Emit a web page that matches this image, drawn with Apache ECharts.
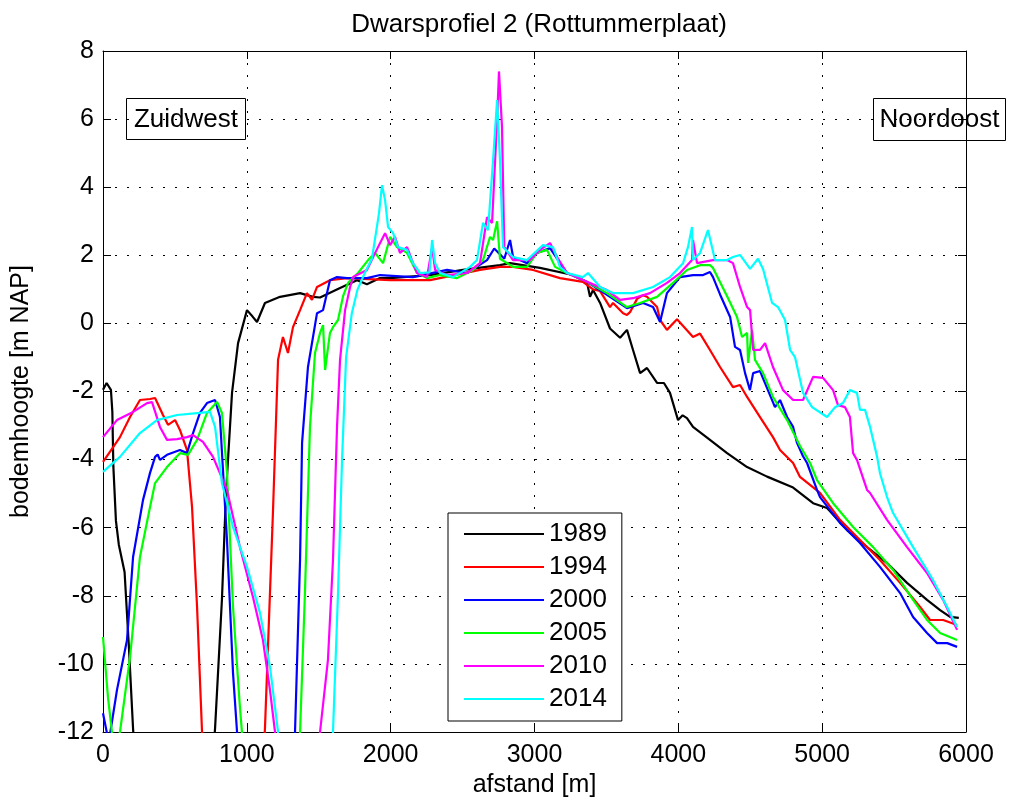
<!DOCTYPE html>
<html>
<head>
<meta charset="utf-8">
<script src="https://cdn.jsdelivr.net/npm/echarts@6/dist/echarts.min.js"></script>
<style>html,body{margin:0;padding:0;background:#fff}#c{width:1010px;height:806px}</style>
</head>
<body>
<div id="c"></div>
<script>
const years = ['1989', '1994', '2000', '2005', '2010', '2014'];
const colors = ['#000000', '#ff0000', '#0000ff', '#00ff00', '#ff00ff', '#00ffff'];
const xTicks = [0, 1000, 2000, 3000, 4000, 5000, 6000];
const yTicks = [-12, -10, -8, -6, -4, -2, 0, 2, 4, 6, 8];

const d1989 = [[0,-1.95],[25,-1.75],[55,-1.95],[65,-2.6],[72,-4.2],[90,-5.8],[110,-6.5],[150,-7.3],[180,-9.5],[209,-11.9],[225,-13],[760,-13],[779,-11.9],[827,-8.1],[855,-5.0],[897,-2.04],[939,-0.58],[1001,0.39],[1040,0.2],[1071,0.04],[1126,0.6],[1231,0.78],[1370,0.89],[1460,0.78],[1509,0.76],[1648,1.04],[1766,1.27],[1835,1.15],[1926,1.33],[1996,1.33],[2274,1.42],[2503,1.57],[2760,1.71],[2830,1.77],[3038,1.63],[3268,1.42],[3365,1.2],[3386,0.78],[3407,0.98],[3456,0.6],[3525,-0.15],[3595,-0.42],[3643,-0.19],[3685,-0.78],[3734,-1.46],[3782,-1.31],[3852,-1.75],[3900,-1.75],[3942,-2.04],[3998,-2.84],[4030,-2.7],[4060,-2.78],[4102,-3.04],[4220,-3.42],[4339,-3.81],[4478,-4.22],[4617,-4.5],[4798,-4.82],[4937,-5.28],[5034,-5.42],[5173,-6.07],[5312,-6.57],[5451,-7.04],[5590,-7.62],[5729,-8.12],[5820,-8.42],[5889,-8.62],[5950,-8.65]];

const d1994 = [[0,-4.07],[60,-3.7],[118,-3.34],[188,-2.75],[257,-2.25],[327,-2.22],[362,-2.19],[417,-2.69],[452,-2.98],[501,-2.84],[535,-3.13],[584,-3.72],[619,-5.39],[654,-8.33],[688,-11.94],[700,-13],[1110,-13],[1126,-11.9],[1182,-5.5],[1217,-1.07],[1251,-0.4],[1286,-0.87],[1321,-0.11],[1370,0.39],[1418,0.89],[1453,0.69],[1488,1.07],[1578,1.27],[1697,1.33],[1996,1.27],[2274,1.27],[2621,1.57],[2760,1.66],[2851,1.66],[2990,1.57],[3177,1.33],[3337,1.22],[3407,1.0],[3456,0.95],[3525,0.48],[3546,0.6],[3616,0.3],[3643,0.25],[3664,0.33],[3713,0.72],[3755,0.83],[3782,0.78],[3852,0.48],[3873,0.1],[3921,-0.19],[3991,0.12],[4060,-0.2],[4102,-0.4],[4151,-0.3],[4220,-0.78],[4290,-1.28],[4380,-1.87],[4429,-1.81],[4478,-2.16],[4568,-2.75],[4658,-3.34],[4707,-3.72],[4798,-4.1],[4846,-4.51],[4985,-4.98],[5124,-5.77],[5263,-6.36],[5402,-6.95],[5542,-7.62],[5681,-8.33],[5750,-8.71],[5841,-8.71],[5938,-8.86]];

const d2000 = [[0,-11.45],[40,-12.3],[97,-10.77],[167,-9.3],[209,-6.86],[278,-5.19],[327,-4.39],[362,-3.92],[380,-3.85],[396,-4.01],[445,-3.86],[535,-3.72],[584,-3.81],[626,-3.22],[674,-2.63],[723,-2.34],[779,-2.25],[813,-2.75],[862,-6.36],[904,-10.27],[932,-12],[945,-13],[1320,-13],[1335,-12],[1370,-6.95],[1384,-3.51],[1425,-1.28],[1488,0.3],[1530,0.39],[1578,1.27],[1627,1.36],[1697,1.33],[1835,1.33],[1926,1.42],[2155,1.36],[2392,1.57],[2531,1.48],[2670,1.86],[2720,2.2],[2790,1.9],[2830,2.45],[2851,1.95],[2948,1.77],[3017,2.07],[3108,2.21],[3178,1.77],[3226,1.48],[3365,1.22],[3525,0.78],[3643,0.45],[3755,0.6],[3824,0.48],[3873,0.04],[3921,0.89],[4012,1.36],[4102,1.42],[4172,1.42],[4220,1.51],[4241,1.36],[4290,0.85],[4360,0.19],[4394,-0.69],[4429,-0.78],[4464,-1.46],[4498,-1.96],[4520,-1.46],[4568,-1.4],[4617,-1.9],[4672,-2.46],[4707,-2.25],[4756,-2.75],[4798,-3.04],[4825,-3.51],[4867,-3.9],[4895,-4.1],[4964,-4.89],[4985,-5.1],[5124,-5.86],[5263,-6.45],[5402,-7.15],[5542,-7.92],[5632,-8.62],[5729,-9.09],[5799,-9.39],[5870,-9.39],[5938,-9.5]];

const d2005 = [[0,-9.21],[35,-11.0],[62,-12],[80,-12.5],[118,-12],[188,-9.8],[257,-6.86],[327,-5.39],[362,-4.69],[445,-4.22],[535,-3.81],[591,-3.86],[654,-3.42],[723,-2.63],[793,-2.31],[827,-2.63],[862,-4.39],[904,-8.33],[952,-11.27],[966,-12],[980,-13],[1355,-13],[1370,-12],[1404,-7.92],[1439,-3.04],[1474,-0.87],[1509,-0.28],[1530,-0.05],[1544,-1.37],[1578,-0.28],[1599,-0.11],[1634,0.1],[1669,0.8],[1704,1.19],[1773,1.48],[1843,1.86],[1891,2.07],[1947,1.77],[1996,2.54],[2044,2.24],[2114,2.07],[2183,1.48],[2253,1.33],[2343,1.42],[2461,1.33],[2573,1.57],[2642,1.86],[2691,2.54],[2712,2.45],[2740,3.0],[2760,1.9],[2851,1.66],[2948,1.66],[3017,2.07],[3087,2.16],[3143,1.66],[3226,1.48],[3365,1.22],[3504,0.89],[3643,0.48],[3734,0.6],[3852,0.78],[3963,1.19],[4060,1.57],[4151,1.71],[4220,1.71],[4241,1.63],[4339,0.8],[4408,0.19],[4443,-0.4],[4478,-0.28],[4485,-1.16],[4513,-0.19],[4533,-1.07],[4589,-1.46],[4658,-2.16],[4756,-2.84],[4846,-3.6],[4916,-4.1],[4964,-4.6],[5076,-5.28],[5215,-5.98],[5354,-6.57],[5493,-7.24],[5632,-8.12],[5729,-8.71],[5820,-9.09],[5938,-9.3]];

const d2010 = [[0,-3.34],[97,-2.84],[209,-2.6],[306,-2.34],[341,-2.31],[396,-3.04],[445,-3.42],[515,-3.4],[584,-3.34],[626,-3.28],[695,-3.48],[765,-3.92],[862,-4.89],[952,-6.57],[1043,-8.04],[1112,-9.3],[1161,-10.77],[1196,-12],[1210,-13],[1495,-13],[1509,-12],[1564,-9.88],[1599,-6.95],[1627,-3.04],[1648,-1.07],[1683,0.39],[1718,1.07],[1739,1.36],[1766,1.42],[1835,1.57],[1912,2.24],[1961,2.65],[1996,2.3],[2030,2.54],[2065,2.07],[2114,2.24],[2148,1.86],[2183,1.48],[2253,1.36],[2288,2.24],[2309,1.57],[2392,1.42],[2531,1.48],[2621,1.77],[2670,3.12],[2705,2.95],[2740,5.97],[2753,7.4],[2774,5.77],[2790,2.24],[2851,1.86],[2969,1.86],[3038,2.16],[3108,2.36],[3157,1.95],[3226,1.48],[3365,1.22],[3504,0.98],[3595,0.69],[3685,0.74],[3803,0.89],[3921,1.19],[4012,1.48],[4095,1.86],[4102,2.45],[4130,1.77],[4241,1.86],[4339,1.86],[4380,1.77],[4429,1.07],[4478,0.48],[4499,0.39],[4520,-0.78],[4568,-0.78],[4603,-0.58],[4658,-1.28],[4728,-1.96],[4798,-2.25],[4867,-2.25],[4937,-1.57],[5006,-1.6],[5076,-1.96],[5110,-2.4],[5159,-2.46],[5193,-2.75],[5215,-3.81],[5242,-4.01],[5312,-4.89],[5333,-4.98],[5451,-5.77],[5590,-6.57],[5729,-7.33],[5841,-8.12],[5938,-9.0]];

const d2014 = [[0,-4.36],[118,-3.92],[257,-3.22],[375,-2.84],[515,-2.69],[674,-2.63],[744,-2.6],[779,-3.04],[827,-4.69],[904,-5.98],[1001,-7.15],[1092,-8.51],[1161,-10.09],[1217,-12],[1230,-13],[1585,-13],[1599,-12],[1634,-7.92],[1662,-4.01],[1690,-1.0],[1730,0.3],[1770,1.0],[1820,1.48],[1870,1.9],[1919,3.24],[1940,4.06],[1961,3.62],[1982,2.83],[2017,2.65],[2051,2.24],[2114,2.16],[2155,1.77],[2204,1.48],[2270,1.5],[2288,2.45],[2309,1.77],[2343,1.48],[2434,1.36],[2552,1.66],[2600,1.86],[2642,2.95],[2677,2.74],[2712,4.8],[2740,6.56],[2760,4.8],[2781,2.24],[2851,1.95],[2948,1.86],[3059,2.3],[3129,2.24],[3177,1.66],[3226,1.48],[3337,1.36],[3372,1.48],[3456,1.07],[3546,0.89],[3685,0.89],[3824,1.07],[3942,1.36],[4033,1.77],[4067,2.24],[4095,2.83],[4102,1.86],[4151,2.07],[4206,2.74],[4255,1.86],[4339,1.86],[4380,1.95],[4429,2.01],[4499,1.6],[4554,1.9],[4589,1.6],[4652,0.6],[4693,0.48],[4742,0.1],[4777,-0.78],[4811,-0.99],[4867,-2.04],[4930,-2.46],[5034,-2.75],[5090,-2.46],[5145,-2.34],[5193,-1.96],[5242,-2.04],[5263,-2.54],[5298,-2.54],[5333,-3.04],[5382,-3.92],[5402,-4.4],[5451,-5.1],[5493,-5.57],[5632,-6.57],[5771,-7.54],[5869,-8.33],[5938,-8.92]];

const seriesData = [d1989, d1994, d2000, d2005, d2010, d2014];
const FONT = 'Liberation Sans, Arial, Helvetica, sans-serif';

const chart = echarts.init(document.getElementById('c'), null, {renderer: 'canvas'});
const axisCommon = {
  type: 'value',
  axisLine: {show: true, onZero: false, lineStyle: {color: '#000', width: 1}},
  axisTick: {show: true, inside: true, length: 8, lineStyle: {color: '#000'}},
};
chart.setOption({
  animation: false,
  backgroundColor: '#fff',
  title: {
    text: 'Dwarsprofiel 2 (Rottummerplaat)',
    left: 534, top: 7, textAlign: 'center',
    textStyle: {fontFamily: FONT, fontSize: 26, fontWeight: 'normal', color: '#000'}
  },
  grid: {left: 103, right: 44, top: 51, bottom: 74, containLabel: false},
  legend: {
    orient: 'vertical', left: 448, top: 513,
    padding: [8, 15, 9, 16], itemGap: 7,
    itemWidth: 80, itemHeight: 2, icon: 'rect',
    backgroundColor: '#fff', borderColor: '#000', borderWidth: 1,
    textStyle: {fontFamily: FONT, fontSize: 26, color: '#000'},
    data: years
  },
  xAxis: [
    Object.assign({}, axisCommon, {
      min: 0, max: 6000, interval: 1000, position: 'bottom',
      name: 'afstand [m]', nameLocation: 'middle', nameGap: 40,
      nameTextStyle: {fontFamily: FONT, fontSize: 25, color: '#000'},
      axisLabel: {fontFamily: FONT, fontSize: 25, color: '#000', margin: 11,
        formatter: v => xTicks.indexOf(v) >= 0 ? String(v) : ''},
      splitLine: {show: true, lineStyle: {color: '#000', width: 1, type: [2, 10]}}
    }),
    Object.assign({}, axisCommon, {
      min: 0, max: 6000, interval: 1000, position: 'top',
      axisLabel: {show: false}, splitLine: {show: false}
    })
  ],
  yAxis: [
    Object.assign({}, axisCommon, {
      min: -12, max: 8, interval: 2, position: 'left',
      name: 'bodemhoogte [m NAP]', nameLocation: 'middle', nameGap: 69,
      nameTextStyle: {fontFamily: FONT, fontSize: 25, color: '#000'},
      axisLabel: {fontFamily: FONT, fontSize: 25, color: '#000', margin: 9,
        formatter: v => yTicks.indexOf(v) >= 0 ? String(v) : ''},
      splitLine: {show: true, lineStyle: {color: '#000', width: 1, type: [2, 10]}}
    }),
    Object.assign({}, axisCommon, {
      min: -12, max: 8, interval: 2, position: 'right',
      axisLabel: {show: false}, splitLine: {show: false}
    })
  ],
  graphic: [
    {type: 'group', left: 126, top: 98, z: 100, children: [
      {type: 'rect', shape: {x: 0, y: 0, width: 119, height: 41}, style: {fill: '#fff', stroke: '#000', lineWidth: 1}},
      {type: 'text', style: {text: 'Zuidwest', x: 59.5, y: 21, align: 'center', verticalAlign: 'middle', font: '26px ' + FONT, fill: '#000'}}
    ]},
    {type: 'group', left: 873, top: 98, z: 100, children: [
      {type: 'rect', shape: {x: 0, y: 0, width: 132, height: 42}, style: {fill: '#fff', stroke: '#000', lineWidth: 1}},
      {type: 'text', style: {text: 'Noordoost', x: 66, y: 21, align: 'center', verticalAlign: 'middle', font: '26px ' + FONT, fill: '#000'}}
    ]}
  ],
  series: years.map((y, i) => ({
    name: y, type: 'line', data: seriesData[i],
    xAxisIndex: 0, yAxisIndex: 0,
    symbol: 'none', showSymbol: false, clip: true,
    lineStyle: {color: colors[i], width: 2.2},
    itemStyle: {color: colors[i]}
  }))
});
</script>
</body>
</html>
